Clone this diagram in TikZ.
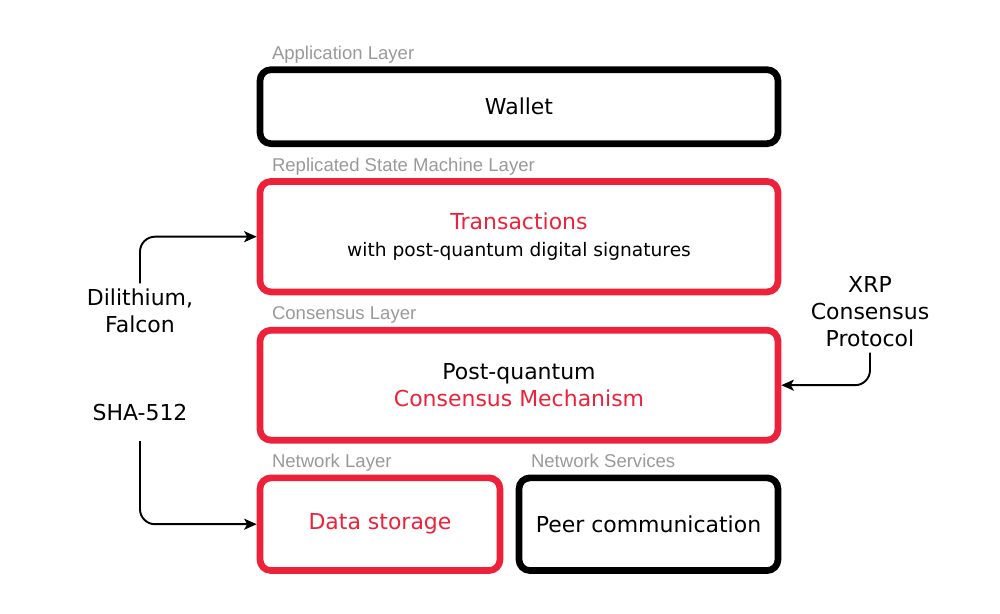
\documentclass[tikz,border=0pt]{standalone}
\usepackage{xcolor}
\usepackage{fontspec}
\setmainfont{DejaVu Sans}
\newfontfamily\labelfont{Liberation Sans}
\usepackage{tikz}
\usetikzlibrary{arrows.meta, positioning}
\definecolor{qred}{RGB}{237,34,58}
\definecolor{labelgray}{RGB}{153,153,153}
\tikzstyle{layerbox} = [rectangle, minimum width=10.36cm, rounded corners=0.22cm, line width=3.8pt, text centered, align=center, font=\fontsize{12.5}{15.5}\selectfont]
\tikzstyle{plainbox} = [layerbox, draw=black]
\tikzstyle{pqbox} = [layerbox, draw=qred]
\tikzstyle{layer} = [anchor=base west, inner sep=0pt, text=labelgray, font=\labelfont\fontsize{10.55}{12}\selectfont]
\tikzstyle{algo} = [align=center, inner sep=3pt, font=\fontsize{12.5}{15.3}\selectfont]
\tikzstyle{arrow} = [line width=1.1pt,->,>={Stealth[length=0.25cm, width=0.22cm, inset=0.06cm]}, rounded corners=0.3cm]

\begin{document}
\begin{tikzpicture}[node distance=2.6cm]
\useasboundingbox (0,0) rectangle (20,-12.28);

% Application Layer
\node (wallet) [plainbox, minimum height=1.48cm] at (10.38,-2.134) {Wallet};

% Replicated State Machine Layer
\node (trans) [pqbox, minimum height=2.21cm, below of=wallet] {\textcolor{qred}{Transactions}\\{\fontsize{10.6}{14.8}\selectfont with post-quantum digital signatures}};

% Consensus Layer
\node (cons) [pqbox, minimum height=2.2cm, below of=trans, yshift=-0.37cm] {Post-quantum\\\textcolor{qred}{Consensus Mechanism}};

% Network Layer
\node (data) [pqbox, minimum width=4.8cm, minimum height=1.854cm, below of=cons, xshift=-2.78cm, yshift=-0.18cm] {\textcolor{qred}{Data storage}};
\node (peer) [plainbox, minimum width=5.18cm, minimum height=1.854cm, below of=cons, xshift=2.59cm, yshift=-0.18cm] {Peer communication};

% Layer names
\node (applbl) [layer] at ([xshift=0.3cm, yshift=0.14cm]wallet.north west) {Application Layer};
\node (rsmlbl) [layer] at ([xshift=0.3cm, yshift=0.14cm]trans.north west) {Replicated State Machine Layer};
\node (conslbl) [layer] at ([xshift=0.3cm, yshift=0.14cm]cons.north west) {Consensus Layer};
\node (netlbl) [layer] at ([xshift=0.3cm, yshift=0.14cm]data.north west) {Network Layer};
\node (srvlbl) [layer] at ([xshift=0.3cm, yshift=0.14cm]peer.north west) {Network Services};

% Algorithms
\node (dil) [algo] at (2.8,-6.22) {Dilithium,\\Falcon};
\node (sha) [algo] at (2.8,-8.246) {SHA-512};
\node (xrp) [algo] at (17.4,-6.24) {XRP\\Consensus\\Protocol};

% Arrows
\draw [arrow] (dil) |- (trans);
\draw [arrow, shorten <=0.3cm] (sha) |- (data);
\draw [arrow] (xrp) |- (cons);

\end{tikzpicture}
\end{document}
